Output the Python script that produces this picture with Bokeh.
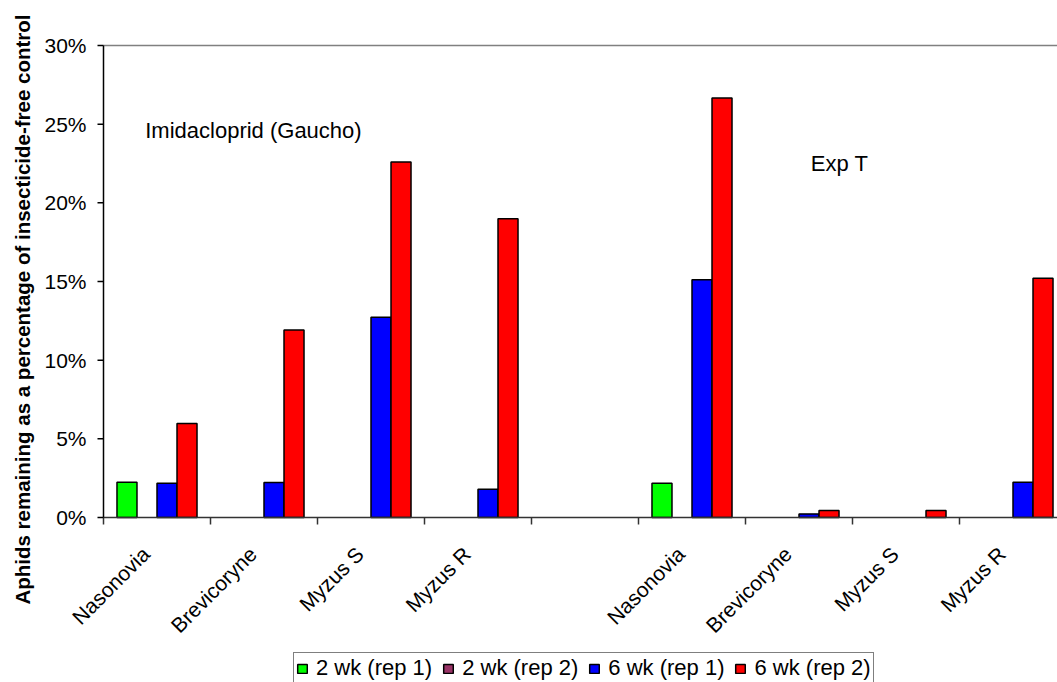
import numpy as np
from bokeh.plotting import figure
from bokeh.models import Range1d, Legend, LegendItem, Label, ColumnDataSource
from bokeh.core.properties import value
from bokeh.embed import file_html
from bokeh.resources import INLINE

# ---- data ----
categories = ["Nasonovia", "Brevicoryne", "Myzus S", "Myzus R", "",
              "Nasonovia", "Brevicoryne", "Myzus S", "Myzus R"]
series_names = ["2 wk (rep 1)", "2 wk (rep 2)", "6 wk (rep 1)", "6 wk (rep 2)"]
wk2_rep1 = [2.24, None, None, None, None, 2.18, None, None, None]
wk2_rep2 = [None, None, None, None, None, None, None, None, None]
wk6_rep1 = [2.18, 2.22, 12.73, 1.80, None, 15.11, 0.23, None, 2.24]
wk6_rep2 = [5.98, 11.92, 22.59, 18.99, None, 26.66, 0.45, 0.45, 15.21]
colors = ["#00FF00", "#993366", "#0000FF", "#FF0000"]
y_ticks = [0, 5, 10, 15, 20, 25, 30]
y_tick_labels = ["0%", "5%", "10%", "15%", "20%", "25%", "30%"]
y_title = "Aphids remaining as a percentage of insecticide-free control"

FONT = "Liberation Sans"

# ---- layout (pixels) ----
W, H = 1057, 682
AXIS_X, ZERO_Y, TOP_Y = 103, 517, 45
PX_PER_CAT = 107.0
Y_MAX = 30.0
PX_PER_UNIT = (ZERO_Y - TOP_Y) / Y_MAX


def ux(px):  # horizontal pixel offset -> category units
    return px / PX_PER_CAT


def uy(px):  # vertical pixel offset -> value units
    return px / PX_PER_UNIT


x0, x1 = -ux(AXIS_X), ux(W - AXIS_X)
y0, y1 = -uy(H - ZERO_Y), Y_MAX + uy(TOP_Y)

p = figure(frame_width=W, frame_height=H, output_backend="svg", toolbar_location=None,
           x_axis_location=None, y_axis_location=None,
           x_range=Range1d(x0, x1), y_range=Range1d(y0, y1),
           min_border_top=0, min_border_left=0, min_border_right=0, min_border_bottom=0)
p.outline_line_color = None
p.xgrid.visible = False
p.ygrid.visible = False
p.background_fill_color = "white"
p.border_fill_color = "white"

n = len(categories)
idx = np.arange(n)

# plot-area top border
p.segment(x0=[0], y0=[Y_MAX], x1=[x1], y1=[Y_MAX], line_color="#808080", line_width=1.5)

# bars
bw = 0.187
series = [wk2_rep1, wk2_rep2, wk6_rep1, wk6_rep2]
items = []
for k, (vals, col, name) in enumerate(zip(series, colors, series_names)):
    xs = idx + 0.5 + (k - 1.5) * bw
    vals_arr = np.array([np.nan if v is None else v for v in vals], dtype=float)
    src = ColumnDataSource(dict(x=xs, top=vals_arr))
    r = p.vbar(x="x", top="top", bottom=0, width=bw, source=src,
               fill_color=col, line_color="black", line_width=1.5)
    items.append(LegendItem(label=name, renderers=[r]))

# x axis: line, boundary ticks, rotated category labels
p.segment(x0=[0], y0=[0], x1=[x1], y1=[0], line_color="#333333", line_width=1.5)
bounds = np.arange(n + 1)
p.segment(x0=bounds, y0=np.zeros(n + 1), x1=bounds, y1=np.full(n + 1, -uy(7)),
          line_color="#333333", line_width=1.5)
lab_src = ColumnDataSource(dict(x=idx + 0.5 - 0.104, y=np.full(n, -uy(33)),
                                text=categories))
p.text(x="x", y="y", text="text", source=lab_src, angle=np.pi / 4,
       text_align="right", text_baseline="middle", text_font=value(FONT),
       text_font_size="21px", text_color="black")

# y axis: line, ticks, labels, title
yt = np.array(y_ticks, dtype=float)
p.segment(x0=[0], y0=[0], x1=[0], y1=[Y_MAX], line_color="black", line_width=1.5)
p.segment(x0=np.zeros(len(yt)), y0=yt, x1=np.full(len(yt), -ux(6)), y1=yt,
          line_color="black", line_width=1.5)
ylab_src = ColumnDataSource(dict(x=np.full(len(yt), -ux(17)), y=yt, text=y_tick_labels))
p.text(x="x", y="y", text="text", source=ylab_src, text_align="right",
       text_baseline="middle", text_font=value(FONT), text_font_size="21px",
       text_color="black")
p.add_layout(Label(x=-ux(AXIS_X - 22), y=uy(ZERO_Y - 309), text=y_title, angle=np.pi / 2,
                   text_align="center", text_baseline="middle", text_font=FONT,
                   text_font_size="20.5px", text_font_style="bold", text_color="black"))

# annotations
p.add_layout(Label(x=0.39, y=24.6, text="Imidacloprid (Gaucho)", text_font=FONT,
                   text_font_size="22px", text_baseline="alphabetic", text_color="black"))
p.add_layout(Label(x=6.61, y=22.5, text="Exp T", text_font=FONT,
                   text_font_size="22px", text_baseline="alphabetic", text_color="black"))

legend = Legend(items=items, orientation="horizontal", location=(293, -2),
                label_text_font=FONT, label_text_font_size="22px",
                label_text_color="black", glyph_width=12, glyph_height=11,
                label_standoff=8, spacing=10, padding=2, margin=0,
                border_line_color="black", border_line_width=1.2,
                background_fill_color="white")
p.add_layout(legend)

open("out.html", "w").write(file_html(p, INLINE))
